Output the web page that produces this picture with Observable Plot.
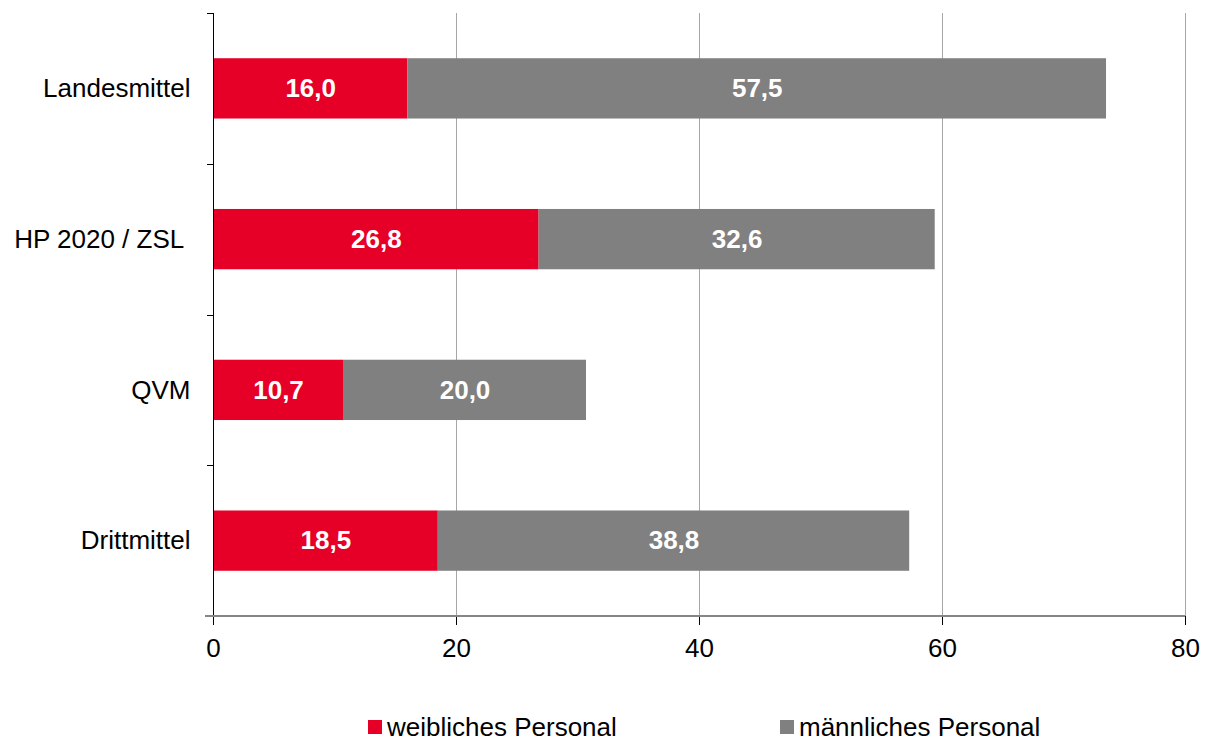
<!DOCTYPE html>
<html>
<head>
<meta charset="utf-8">
<script src="https://cdn.jsdelivr.net/npm/d3@7"></script>
<script src="https://cdn.jsdelivr.net/npm/@observablehq/plot@0.6"></script>
<style>
  html, body { margin: 0; padding: 0; background: #fff; }
  body { width: 1212px; height: 742px; overflow: hidden; font-family: "Liberation Sans", Arial, sans-serif; position: relative; }
  #chart svg { display: block; }
  #legend { position: absolute; top: 713px; left: 0; width: 1212px; height: 28px; font-size: 26px; color: #000; }
  .item { position: absolute; top: 0; display: flex; align-items: center; white-space: nowrap; line-height: 28px; height: 28px; }
  .sw { width: 14px; height: 14px; margin-right: 5px; display: inline-block; }
</style>
</head>
<body>
<div id="chart"></div>
<div id="legend"></div>
<script>
const categories = ["Landesmittel", "HP 2020 / ZSL ", "QVM", "Drittmittel"];
const seriesNames = ["weibliches Personal", "männliches Personal"];
const weiblich = [16.0, 26.8, 10.7, 18.5];
const maennlich = [57.5, 32.6, 20.0, 38.8];
const xTicks = [0, 20, 40, 60, 80];
const colors = ["#e60028", "#808080"];

const data = [];
categories.forEach((c, i) => {
  data.push({cat: c, series: seriesNames[0], value: weiblich[i]});
  data.push({cat: c, series: seriesNames[1], value: maennlich[i]});
});
const fmt = v => d3.format(".1f")(v).replace(".", ",");

function axisLines(index, scales, values, dimensions) {
  const y = scales.y;
  const step = y.step ? y.step() : y.bandwidth();
  const bw = y.bandwidth();
  const x0 = scales.x(0);
  const xEnd = scales.x(80);
  const g = d3.create("svg:g");
  const ys = [];
  categories.forEach((c, i) => {
    const top = y(c) - (step - bw) / 2;
    ys.push(top);
    if (i === categories.length - 1) ys.push(top + step);
  });
  const bottom = ys[ys.length - 1];
  g.append("line").attr("x1", x0 + 0.5).attr("x2", x0 + 0.5).attr("y1", ys[0]).attr("y2", bottom)
    .attr("stroke", "#000").attr("stroke-width", 1);
  ys.slice(0, -1).forEach(v => {
    g.append("line").attr("x1", x0 - 6).attr("x2", x0).attr("y1", Math.round(v) + 0.5).attr("y2", Math.round(v) + 0.5)
      .attr("stroke", "#000").attr("stroke-width", 1);
  });
  g.append("line").attr("x1", x0 - 8).attr("x2", xEnd).attr("y1", bottom).attr("y2", bottom)
    .attr("stroke", "#868686").attr("stroke-width", 2);
  return g.node();
}

const chart = Plot.plot({
  width: 1212,
  height: 713,
  marginTop: 13,
  marginBottom: 97,
  marginLeft: 213,
  marginRight: 27,
  style: {fontFamily: "'Liberation Sans', Arial, sans-serif", fontSize: "26px", color: "#000", background: "#fff"},
  x: {domain: [0, 80], ticks: xTicks, label: null},
  y: {domain: categories, paddingInner: 0.6, paddingOuter: 0.3, round: false, label: null},
  color: {domain: seriesNames, range: colors},
  marks: [
    Plot.gridX(xTicks.filter(t => t > 0), {stroke: "#a6a6a6", strokeOpacity: 1, strokeWidth: 1}),
    Plot.barX(data, Plot.stackX({x: "value", y: "cat", fill: "series", z: "series", order: seriesNames})),
    Plot.text(data, Plot.stackX({x: "value", y: "cat", z: "series", order: seriesNames, text: d => fmt(d.value), fill: "white", fontWeight: "bold", fontSize: 26})),
    Plot.axisY({tickSize: 0, tickPadding: 23, fontSize: 26}),
    Plot.axisX({ticks: xTicks, tickSize: 9, tickPadding: 13, fontSize: 26, stroke: "#000", tickFormat: d => String(d)}),
    axisLines
  ]
});

document.getElementById("chart").appendChild(chart);

const legend = document.getElementById("legend");
const pos = [368, 780];
seriesNames.forEach((s, i) => {
  const it = document.createElement("div");
  it.className = "item";
  it.style.left = pos[i] + "px";
  const sw = document.createElement("span");
  sw.className = "sw";
  sw.style.background = colors[i];
  const t = document.createElement("span");
  t.textContent = s;
  it.appendChild(sw); it.appendChild(t);
  legend.appendChild(it);
});
</script>
</body>
</html>
